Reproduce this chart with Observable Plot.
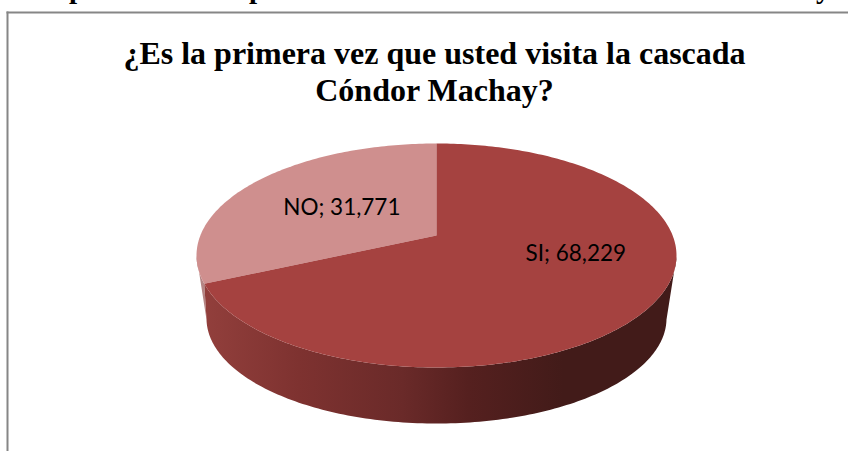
<!DOCTYPE html>
<html lang="es">
<head>
<meta charset="utf-8">
<script src="https://cdn.jsdelivr.net/npm/d3@7"></script>
<script src="https://cdn.jsdelivr.net/npm/@observablehq/plot@0.6"></script>
<style>
  html, body { margin: 0; padding: 0; background: #fff; overflow: hidden; }
  #page { position: relative; width: 848px; height: 451px; }
  #cut { position: absolute; left: 0; top: 0; width: 848px; height: 12px; overflow: hidden;
         font: bold 29px/29px "Liberation Serif", serif; color: #000; }
  #cut span { position: absolute; top: -26px; }
  svg { display: block; }
</style>
</head>
<body>
<div id="page">
  <div id="cut"><span style="left:69px">p</span><span style="left:249px">p</span><span style="left:816px">y</span></div>
</div>
<script>
const categories = ["SI", "NO"];
const values = [68.229, 31.771];
const valueLabels = ["68,229", "31,771"];
const topColors = ["#a54240", "#cf8f8e"];
const title = "¿Es la primera vez que usted visita la cascada\nCóndor Machay?";

// Appearance of the tilted pie
const skew = -0.1786;          // perspective: how far the centre sits above the ellipse centre
const wallScaleX = 230 / 240;  // lower rim is slightly narrower
const wallScaleY = 105 / 112;
const wallDrop = 63 / 112;     // lower rim offset, in y-scale units

const project = (angle, r = 1) => {
  const ux = r * Math.sin(angle), uy = -r * Math.cos(angle);
  const d = skew * uy + 1;
  return { x: ux * Math.sqrt(1 - skew * skew) / d, y: (uy + skew) / d };
};
const arcs = d3.pie().sort(null).value(d => d)(values);
const deg = Math.PI / 180;
const rim = (a0, a1) => {
  const n = Math.max(2, Math.ceil((a1 - a0) / deg));
  return d3.range(n + 1).map(i => project(a0 + (a1 - a0) * i / n));
};

const tops = arcs.flatMap((a, i) =>
  [project(0, 0), ...rim(a.startAngle, a.endAngle)].map(p => ({ ...p, slice: categories[i] })));

const lowerRim = rim(0, 2 * Math.PI).filter(p => p.y >= 0)
  .map(p => ({ x: p.x * wallScaleX, y: wallDrop + p.y * wallScaleY }));
const upperOf = a => rim(a.startAngle, a.endAngle).filter(p => p.y >= 0);
const frontWall = [...upperOf(arcs[0]), ...lowerRim.slice().reverse()];
const backWall = [...upperOf(arcs[1]), lowerRim[lowerRim.length - 1]];

const labels = arcs.map((a, i) => {
  const mid = (a.startAngle + a.endAngle) / 2;
  return { ...project(mid, 0.5), text: `${categories[i]}; ${valueLabels[i]}`, slice: categories[i] };
});

const labelStyle = { x: "x", y: "y", text: "text", fontFamily: "Lato, sans-serif", fontSize: 22.5, fill: "#000" };

const plot = Plot.plot({
  width: 848,
  height: 451,
  marginLeft: 7,
  marginTop: 12,
  marginRight: 0,
  marginBottom: 0,
  style: { background: "#fff", overflow: "hidden" },
  x: { axis: null, domain: [-1, 1], range: [196, 676] },
  y: { axis: null, domain: [-1, 1], range: [143, 367] },
  marks: [
    Plot.frame({ anchor: "left", stroke: "#868686", strokeWidth: 2 }),
    Plot.frame({ anchor: "top", stroke: "#868686", strokeWidth: 2 }),
    Plot.line(backWall, { x: "x", y: "y", fill: "#b48584", stroke: "none" }),
    Plot.line(frontWall, { x: "x", y: "y", fill: "url(#sideGradient)", stroke: "none" }),
    Plot.line(tops.filter(d => d.slice === "NO"), { x: "x", y: "y", fill: topColors[1], stroke: "none" }),
    Plot.line(tops.filter(d => d.slice === "SI"), { x: "x", y: "y", fill: topColors[0], stroke: "none" }),
    Plot.text(labels.filter(d => d.slice === "NO"), labelStyle),
    Plot.text(labels.filter(d => d.slice === "SI"), { ...labelStyle, dx: 35, dy: -13 }),
    Plot.text([title], {
      text: d => d, frameAnchor: "top", dx: 6.5, dy: 26,
      fontFamily: "'Liberation Serif', serif", fontWeight: "bold", fontSize: 32,
      lineHeight: 1.14, lineAnchor: "top", fill: "#000"
    })
  ]
});

const defs = d3.select(plot).insert("defs", ":first-child");
const grad = defs.append("linearGradient").attr("id", "sideGradient");
[[0, "#923f3c"], [0.2, "#7e3230"], [0.42, "#6a2a29"], [0.56, "#55201f"], [0.76, "#421b19"], [1, "#421b19"]]
  .forEach(([o, c]) => grad.append("stop").attr("offset", o).attr("stop-color", c));

document.getElementById("page").prepend(plot);
</script>
</body>
</html>
